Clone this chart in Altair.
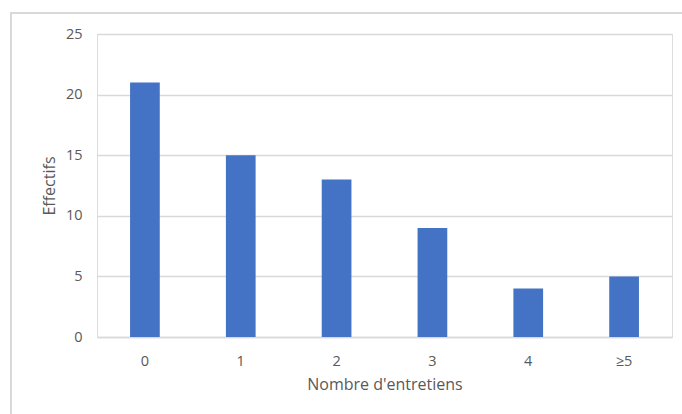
import altair as alt
import pandas as pd

categories = ["0", "1", "2", "3", "4", "≥5"]
effectifs = [21, 15, 13, 9, 4, 5]

df = pd.DataFrame({"cat": categories, "val": effectifs})

FONT = "Open Sans"
GREY = "#595959"
GRID = "#d9d9d9"

bars = alt.Chart(df).mark_bar(color="#4472C4").encode(
    x=alt.X("cat:N", sort=categories,
            scale=alt.Scale(paddingInner=0.69, paddingOuter=0.345),
            axis=alt.Axis(title="Nombre d'entretiens", labelAngle=0, ticks=False,
                          domainColor=GRID, domainWidth=1.5, labelPadding=17,
                          titlePadding=9, labelColor=GREY, titleColor=GREY,
                          labelFont=FONT, titleFont=FONT, labelFontSize=14.5,
                          titleFontSize=16, titleFontWeight="normal")),
    y=alt.Y("val:Q", scale=alt.Scale(domain=[0, 25]),
            axis=alt.Axis(title="Effectifs", values=[0, 5, 10, 15, 20, 25],
                          ticks=False, domain=False, gridColor=GRID, gridWidth=1.5,
                          labelPadding=15, titlePadding=8, labelColor=GREY,
                          titleColor=GREY, labelFont=FONT, titleFont=FONT,
                          labelFontSize=14.5, titleFontSize=16,
                          titleFontWeight="normal")),
)

frame = alt.Chart(df).mark_rect(fill=None, stroke=GRID, strokeWidth=1.5).encode(
    x=alt.value(-86), x2=alt.value(600), y=alt.value(-21), y2=alt.value(420)
)

chart = alt.layer(frame, bars).properties(
    width=575, height=303,
    padding={"left": 97, "top": 34, "right": 10, "bottom": 77},
    autosize=alt.AutoSizeParams(type="none"),
).configure_view(stroke=None).configure(background="white")

chart.save("out.html", embed_options={"renderer": "svg", "actions": False})
